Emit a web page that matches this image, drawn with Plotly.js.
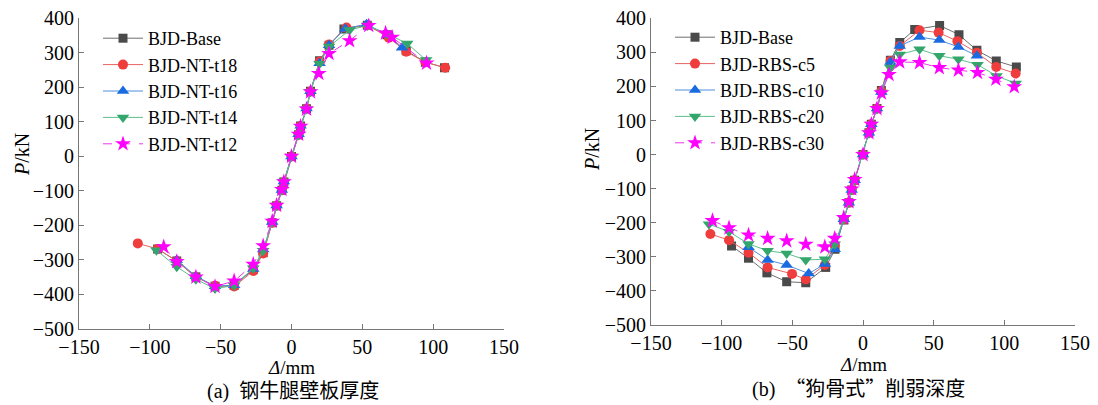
<!DOCTYPE html>
<html>
<head>
<meta charset="utf-8">
<script src="https://cdn.plot.ly/plotly-3.0.1.min.js"></script>
<style>html,body{margin:0;padding:0;background:#fff;}#chart{width:1098px;height:405px;}</style>
</head>
<body>
<div id="chart"></div>
<script>
// ---------- (a) 钢牛腿壁板厚度 ----------
const aBaseX = [-94.5,-81,-67.5,-54,-40.5,-27,-20,-13.6,-10.5,-6.8,-5.4,0,5,6.4,10.6,13.4,19.8,26.5,37,53.5,67.5,81,94.5,108];
const aBaseY = [-268,-303,-349,-376,-374,-328,-279,-192,-143,-98,-74,0,63,88,138,189,277,322,369,380,352,306,273,257];
const aT18X = [-108.5,-94.5,-81,-67.5,-54,-40.5,-27,-20,-13.6,-10.5,-6.8,-5.4,0,5,6.4,10.6,13.4,19.8,26.5,38.8,53.5,68.7,81,94.5,108.5];
const aT18Y = [-252,-268,-303,-350,-375,-377,-332,-281,-192,-143,-98,-74,0,63,88,138,188,275,324,373,380,344,303,273,257];
const aT16X = [-81,-67.5,-54,-40.5,-27,-20,-13.6,-10.5,-6.8,-5.4,0,5,6.4,10.6,13.4,19.8,26.5,38,53,67.5,78];
const aT16Y = [-300,-347,-376,-373,-326,-270,-190,-142,-97,-73,0,64,89,139,189,270,322,370,383,352,315];
const aT14X = [-95.3,-81,-67.5,-54,-40.5,-27,-20,-13.6,-10.5,-6.8,-5.4,0,5,6.4,10.6,13.4,19.8,26.5,41,53.5,67.5,81.7,95];
const aT14Y = [-272,-320,-356,-383,-374,-324,-273,-190,-142,-97,-73,0,62,86,137,187,268,318,366,379,355,327,279];
const aT12X = [-90.2,-81,-67.5,-54,-40.5,-27,-20,-13.6,-10.5,-6.8,-5.4,0,5,6.4,10.6,13.4,19.3,26.5,41,54.5,66.4,71,95.3];
const aT12Y = [-262,-305,-350,-377,-361,-313,-259,-188,-142,-96,-74,0,64,87,137,187,240,298,335,379,357,345,270];

// ---------- (b) “狗骨式”削弱深度 ----------
const bBaseX = [-93,-81,-68,-54,-40.5,-26.4,-19.8,-13.6,-10,-8,-5.9,0,4.2,5.9,9.9,13,19.4,26,36.6,54.2,67.9,80.6,94.3,108.5];
const bBaseY = [-268,-304,-347,-373,-376,-331,-278,-192,-141,-104,-75,0,64,89,135,188,277,329,367,379,352,306,275,257];
const bC5X = [-108,-94.8,-81,-67.5,-50.2,-40.5,-27,-20,-13.6,-10,-8,-5.9,0,4.2,5.9,9.9,13,19.4,26,40,53.5,66.8,80.6,94.3,108];
const bC5Y = [-233,-251,-288,-331,-350,-366,-324,-265,-190,-141,-104,-75,0,64,89,135,186,275,319,365,358,333,299,257,238];
const bC10X = [-81,-67.5,-54,-38.4,-27,-20,-13.6,-10,-8,-5.9,0,4.2,5.9,9.9,13,19.4,26,40,54,67.5,80.6];
const bC10Y = [-272,-309,-324,-349,-321,-278,-190,-141,-104,-75,0,64,89,135,184,272,319,345,336,316,290];
const bC20X = [-109,-94.8,-81,-67.5,-54,-40.5,-27,-20,-13.6,-10,-8,-5.9,0,4.2,5.9,9.9,13,19.4,26,40,54,67.5,81,94.5,108];
const bC20Y = [-204,-226,-262,-282,-290,-309,-307,-263,-188,-140,-103,-74,0,63,88,134,182,255,294,309,290,280,264,231,209];
const bC30X = [-106.5,-94.8,-81,-67.5,-54,-40.5,-27,-20,-13.6,-10,-8,-5.9,0,4.2,5.9,9.9,13,18.4,26,40,54,67.5,81,94,107];
const bC30Y = [-194,-215,-236,-246,-253,-263,-271,-246,-185,-138,-101,-73,0,64,89,135,181,235,272,270,255,248,241,221,199];

const namesA = ['BJD-Base','BJD-NT-t18','BJD-NT-t16','BJD-NT-t14','BJD-NT-t12'];
const namesB = ['BJD-Base','BJD-RBS-c5','BJD-RBS-c10','BJD-RBS-c20','BJD-RBS-c30'];
const xTicks = [-150,-100,-50,0,50,100,150];
const yTicks = [400,300,200,100,0,-100,-200,-300,-400,-500];

const styles = [
  {line:'#6e6e6e', mk:'#4a4a4a', sym:'square', size:9, dash:'solid'},
  {line:'#e86262', mk:'#ef3d3d', sym:'circle', size:10, dash:'solid'},
  {line:'#4f8fdc', mk:'#1a6be0', sym:'triangle-up', size:11, dash:'solid'},
  {line:'#5cbf8c', mk:'#33a66b', sym:'triangle-down', size:11, dash:'solid'},
  {line:'#ee33ee', mk:'#ff00ff', sym:'star', size:12, dash:'dash'}
];

function mk(x, y, i, name, xa, ya, leg) {
  const s = styles[i];
  return {x:x, y:y, name:name, type:'scatter', mode:'lines+markers',
    xaxis:xa, yaxis:ya, legend:leg,
    line:{color:s.line, width:1, dash:s.dash},
    marker:{symbol:s.sym, size:s.size, color:s.mk, line:{width:0}}};
}

const dataA = [[aBaseX,aBaseY],[aT18X,aT18Y],[aT16X,aT16Y],[aT14X,aT14Y],[aT12X,aT12Y]];
const dataB = [[bBaseX,bBaseY],[bC5X,bC5Y],[bC10X,bC10Y],[bC20X,bC20Y],[bC30X,bC30Y]];
const traces = [];
dataA.forEach((d,i)=>traces.push(mk(d[0],d[1],i,namesA[i],'x','y','legend')));
dataB.forEach((d,i)=>traces.push(mk(d[0],d[1],i,namesB[i],'x2','y2','legend2')));

const W = 1098, H = 405;
const SERIF = 'Liberation Serif, Times New Roman, serif';
function tf() { return {family:SERIF, size:20, color:'#000'}; }
function xax(dom, anchor) {
  return {domain:dom, anchor:anchor, range:[-150,150], tickvals:xTicks, ticks:'inside', ticklen:5,
    tickcolor:'#777', showline:true, linecolor:'#777', linewidth:1, showgrid:false, zeroline:false,
    tickfont:tf(), fixedrange:true};
}
function yax(dom, anchor) {
  return {domain:dom, anchor:anchor, range:[-500,400], tickvals:yTicks, ticks:'inside', ticklen:5,
    tickcolor:'#777', showline:true, linecolor:'#777', linewidth:1, showgrid:false, zeroline:false,
    tickfont:tf(), fixedrange:true};
}
function lf() { return {family:SERIF, size:18, color:'#000'}; }
const ann = (x, y, text, extra) => Object.assign({xref:'paper', yref:'paper', x:x/W, y:1-y/H,
  text:text, showarrow:false, xanchor:'center', yanchor:'middle', borderpad:0,
  font:{family:'Liberation Serif, Noto Sans CJK SC, serif', size:20, color:'#000'}}, extra||{});
const small = {family:'Liberation Serif, serif', size:19, color:'#000'};

const layout = {
  width:W, height:H, margin:{l:0,r:0,t:0,b:0}, paper_bgcolor:'#fff', plot_bgcolor:'#fff',
  showlegend:true,
  xaxis: xax([79/W, 504/W], 'y'),
  yaxis: yax([1-329/H, 1-18.3/H], 'x'),
  xaxis2: xax([651/W, 1075/W], 'y2'),
  yaxis2: yax([1-325/H, 1-18.3/H], 'x2'),
  legend:{x:98/W, y:1-20/H, xanchor:'left', yanchor:'top', bgcolor:'rgba(0,0,0,0)', font:lf(),
    tracegroupgap:0, itemwidth:40},
  legend2:{x:670/W, y:1-19/H, xanchor:'left', yanchor:'top', bgcolor:'rgba(0,0,0,0)', font:lf(),
    tracegroupgap:0, itemwidth:40},
  annotations:[
    ann(22, 155, '<i>P</i>/kN', {textangle:-90}),
    ann(592, 150, '<i>P</i>/kN', {textangle:-90}),
    ann(291, 367, '<i>Δ</i>/mm', {font:small}),
    ann(863, 364, '<i>Δ</i>/mm', {font:small}),
    ann(293, 391, '(a)  钢牛腿壁板厚度'),
    ann(858, 387, '(b)  <span style="font-family:Noto Sans CJK SC">“狗骨式”削弱深度</span>')
  ]
};
Plotly.newPlot('chart', traces, layout, {displayModeBar:false, staticPlot:true});
</script>
</body>
</html>
